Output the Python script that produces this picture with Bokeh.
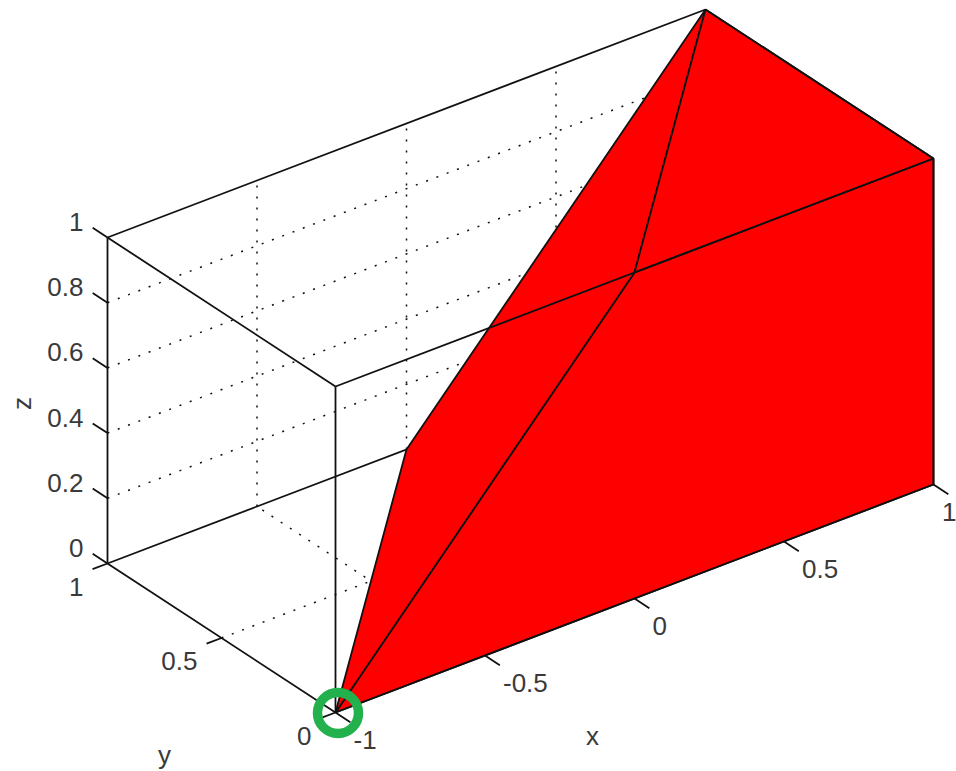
from bokeh.plotting import figure
from bokeh.models import Range1d
from bokeh.core.properties import value
from bokeh.embed import file_html
from bokeh.resources import INLINE
import numpy as np

# 3D data
x_ticks = [-1, -0.5, 0, 0.5, 1]
y_ticks = [0, 0.5, 1]
z_ticks = [0, 0.2, 0.4, 0.6, 0.8, 1]
x_labels = ["-1", "-0.5", "0", "0.5", "1"]
y_labels = ["0", "0.5", "1"]
z_labels = ["0", "0.2", "0.4", "0.6", "0.8", "1"]

patch_x = [[-1, 1, 1, 0], [-1, 0, 1, 0], [0, 1, 1]]
patch_y = [[0, 0, 0, 0], [0, 0, 1, 1], [0, 0, 1]]
patch_z = [[0, 0, 1, 1], [0, 1, 1, 0], [1, 1, 1]]

marker_point = (-1, 0, 0)
FONT = "Liberation Sans"
TXT = "#3a3a3a"


def proj(x, y, z):
    """View transform of the reference's 3D axes, to page pixels."""
    x, y, z = np.asarray(x, float), np.asarray(y, float), np.asarray(z, float)
    sx = 335 + (x + 1) * 299 - y * 228
    sy = 712 - (x + 1) * 114 - y * 149 - z * 326
    return sx, sy


p = figure(width=956, height=771, output_backend="svg", toolbar_location=None,
           x_range=Range1d(0, 956), y_range=Range1d(771, 0),
           min_border=0, outline_line_color=None)
p.axis.visible = False
p.grid.visible = False
p.background_fill_color = "white"


def seg(a, b, width=1.8, dash="solid", color="#111111"):
    ax, ay = proj(*a)
    bx, by = proj(*b)
    p.line([float(ax), float(bx)], [float(ay), float(by)], line_color=color,
           line_width=width, line_dash=dash)


DOT = "2 9"
# grid, back walls and floor
for x in x_ticks[1:-1]:
    seg((x, 1, 0), (x, 1, 1), dash=DOT, width=1.5)
    seg((x, 0, 0), (x, 1, 0), dash=DOT, width=1.5)
for y in y_ticks[1:-1]:
    seg((-1, y, 0), (1, y, 0), dash=DOT, width=1.5)
    seg((1, y, 0), (1, y, 1), dash=DOT, width=1.5)
for z in z_ticks[1:-1]:
    seg((-1, 1, z), (1, 1, z), dash=DOT, width=1.5)
    seg((1, 0, z), (1, 1, z), dash=DOT, width=1.5)

# back box edges
seg((-1, 1, 0), (1, 1, 0))
seg((1, 1, 0), (1, 0, 0))
seg((1, 1, 0), (1, 1, 1))

# surface
xs, ys = [], []
for a, b, c in zip(patch_x, patch_y, patch_z):
    sx, sy = proj(a, b, c)
    xs.append(sx.tolist())
    ys.append(sy.tolist())
p.patches(xs, ys, fill_color="#ff0000", line_color="#111111", line_width=1.8)

# front box edges
seg((-1, 1, 1), (1, 1, 1))
seg((1, 1, 1), (1, 0, 1))
seg((1, 0, 1), (-1, 0, 1))
seg((-1, 0, 1), (-1, 1, 1))
seg((-1, 1, 1), (-1, 1, 0))
seg((-1, 0, 1), (-1, 0, 0))
seg((1, 0, 1), (1, 0, 0))
seg((-1, 1, 0), (-1, 0, 0))
seg((-1, 0, 0), (1, 0, 0))

# ticks
for x in x_ticks:
    seg((x, 0, 0), (x, -0.065, 0))
for y in y_ticks:
    seg((-1, y, 0), (-1.05, y, 0))
for z in z_ticks:
    seg((-1, 1, z), (-1, 1.065, z))


def labels(sx, sy, txt, align, angle=0.0):
    p.text(list(map(float, sx)), list(map(float, sy)), text=txt, text_font=value(FONT),
           text_font_size="26px", text_color=TXT, text_align=align,
           text_baseline="middle", angle=angle)


sx, sy = proj(x_ticks, [0] * 5, [0] * 5)
labels(sx[:-1] + 18, sy[:-1] + 27.5, x_labels[:-1], "left")
# the last x label sits at the picture's edge: keep it whole, just inside
labels(sx[-1:] + 23, sy[-1:] + 27.5, x_labels[-1:], "right")
sx, sy = proj([-1] * 3, y_ticks, [0] * 3)
labels(sx - 24, sy + 23, y_labels, "right")
sx, sy = proj([-1] * 6, [1] * 6, z_ticks)
labels(sx - 24, sy - 15.5, z_labels, "right")

labels([592], [735], ["x"], "center")
labels([164], [754], ["y"], "center")
labels([21], [403], ["z"], "center", angle=np.pi / 2)

# green highlight ring
mx, my = proj(*marker_point)
p.scatter([float(mx) + 2.5], [float(my) + 0.5], size=41, marker="circle", fill_color=None,
          line_color="#22b14c", line_width=9.5)

open("out.html", "w").write(file_html(p, INLINE))
